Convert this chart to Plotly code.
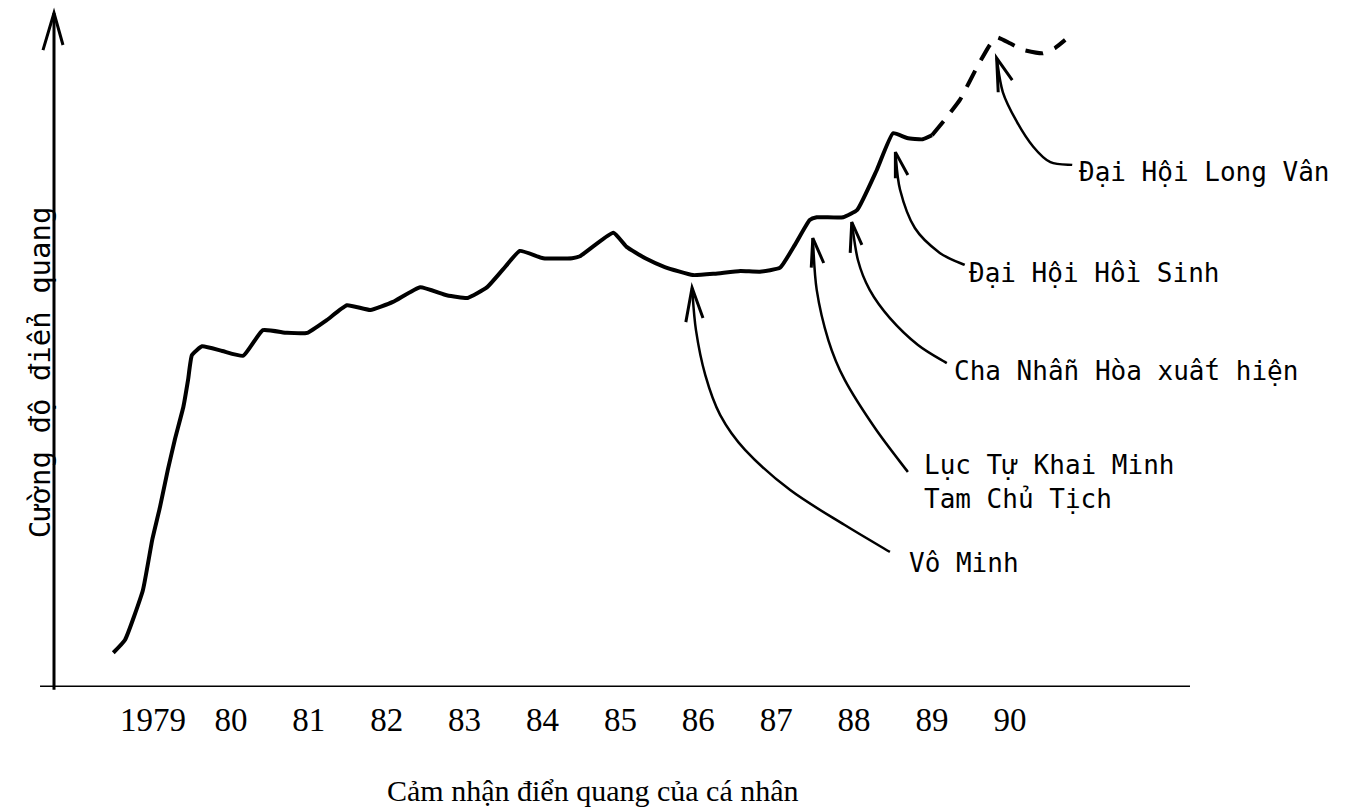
import plotly.graph_objects as go

# ---- data (year, intensity 0-100) ----
solid_years = [1978.49, 1978.64, 1978.87, 1978.99, 1979.09, 1979.19, 1979.28, 1979.39, 1979.45,
               1979.50, 1979.63, 1979.89, 1980.16, 1980.41, 1980.72, 1980.98, 1981.23, 1981.49,
               1981.79, 1982.08, 1982.43, 1982.77, 1983.04, 1983.29, 1983.49, 1983.71, 1984.01,
               1984.38, 1984.48, 1984.91, 1985.08, 1985.32, 1985.57, 1985.93, 1986.21, 1986.54,
               1986.79, 1987.05, 1987.24, 1987.43, 1987.52, 1987.86, 1988.04, 1988.29, 1988.50,
               1988.68, 1988.88, 1989.00]
solid_vals = [5.1, 7.0, 14.4, 21.9, 26.8, 32.3, 36.8, 41.7, 45.7,
              49.4, 50.7, 50.0, 49.3, 53.1, 52.7, 52.7, 54.6, 56.8,
              56.1, 57.3, 59.5, 58.3, 57.9, 59.5, 62.1, 64.9, 63.8,
              63.8, 64.1, 67.6, 65.5, 63.8, 62.5, 61.3, 61.5, 61.9,
              61.8, 62.4, 65.8, 69.5, 69.9, 69.9, 71.0, 76.9, 82.4,
              81.7, 81.5, 82.1]

dashed_years = [1989.00, 1989.19, 1989.36, 1989.58, 1989.74, 1989.83, 1990.00, 1990.17,
                1990.42, 1990.58, 1990.71]
dashed_vals = [82.1, 84.8, 87.4, 92.3, 95.5, 96.7, 95.8, 94.8, 94.3, 95.1, 96.3]

tick_years = [1979, 1980, 1981, 1982, 1983, 1984, 1985, 1986, 1987, 1988, 1989, 1990]
tick_labels = ["1979", "80", "81", "82", "83", "84", "85", "86", "87", "88", "89", "90"]

event_labels = ["Đại Hội Long Vân", "Đại Hội Hồi Sinh", "Cha Nhẫn Hòa xuất hiện",
                "Lục Tự Khai Minh<br>Tam Chủ Tịch", "Vô Minh"]

x_title = "Cảm nhận điển quang của cá nhân"
y_title = "Cường độ điển quang"

# ---- callout geometry (layout decoration, data units) ----
label_pos = [(1990.86, 76.6), (1989.45, 61.6), (1989.26, 47.0), (1988.87, 30.5), (1988.68, 18.5)]
arrow_paths = [
    [(1989.83, 93.6), (1989.91, 88.5), (1990.09, 84.1), (1990.30, 80.4), (1990.52, 78.1), (1990.80, 77.7)],
    [(1988.53, 79.6), (1988.59, 74.0), (1988.78, 68.3), (1989.10, 64.6), (1989.42, 62.8)],
    [(1987.97, 69.2), (1988.05, 63.5), (1988.20, 59.1), (1988.46, 54.9), (1988.82, 50.9), (1989.19, 48.2)],
    [(1987.47, 66.8), (1987.52, 59.1), (1987.67, 51.6), (1987.88, 45.7), (1988.27, 38.5), (1988.69, 32.0)],
    [(1985.92, 59.4), (1985.97, 53.1), (1986.09, 46.4), (1986.28, 40.5), (1986.60, 35.3),
     (1987.18, 29.3), (1987.88, 24.1), (1988.46, 20.1)],
]
arrow_barbs = [
    [(1989.85, 88.5), (1990.03, 90.3)],
    [(1988.53, 75.7), (1988.69, 76.2)],
    [(1987.95, 64.6), (1988.10, 65.8)],
    [(1987.45, 62.4), (1987.61, 63.1)],
    [(1985.84, 54.3), (1986.06, 54.9)],
]

X_RANGE = [1977.729, 1992.312]
Y_RANGE = [0, 100.3]


def smooth_path(pts):
    """Catmull-Rom spline through pts as an SVG path."""
    d = f"M {pts[0][0]},{pts[0][1]}"
    n = len(pts)
    for i in range(n - 1):
        p0 = pts[i - 1] if i > 0 else pts[i]
        p1 = pts[i]
        p2 = pts[i + 1]
        p3 = pts[i + 2] if i + 2 < n else pts[i + 1]
        c1 = (p1[0] + (p2[0] - p0[0]) / 6, p1[1] + (p2[1] - p0[1]) / 6)
        c2 = (p2[0] - (p3[0] - p1[0]) / 6, p2[1] - (p3[1] - p1[1]) / 6)
        d += f" C {c1[0]},{c1[1]} {c2[0]},{c2[1]} {p2[0]},{p2[1]}"
    return d


fig = go.Figure()
fig.add_trace(go.Scatter(x=solid_years, y=solid_vals, mode="lines",
                         line=dict(color="black", width=4, shape="spline", smoothing=0.4),
                         hoverinfo="skip", showlegend=False))
fig.add_trace(go.Scatter(x=dashed_years, y=dashed_vals, mode="lines",
                         line=dict(color="black", width=4, dash="18px,12px",
                                   shape="spline", smoothing=0.4),
                         hoverinfo="skip", showlegend=False))

shapes = []
# x axis line (extends slightly left of y axis)
shapes.append(dict(type="line", xref="paper", yref="y", x0=-0.0123, x1=1.0, y0=0, y1=0,
                   line=dict(color="black", width=3)))
# y axis with open arrow head
shapes.append(dict(type="line", xref="paper", yref="paper", x0=0, x1=0, y0=-0.004, y1=1.0,
                   line=dict(color="black", width=3)))
shapes.append(dict(type="path", xref="paper", yref="paper",
                   path="M -0.0097,0.945 L 0,1 L 0.0079,0.9525",
                   line=dict(color="black", width=3)))

for pts, barbs in zip(arrow_paths, arrow_barbs):
    shapes.append(dict(type="path", xref="x", yref="y", path=smooth_path(pts),
                       line=dict(color="black", width=2.5)))
    tip = pts[0]
    shapes.append(dict(type="path", xref="x", yref="y",
                       path=f"M {barbs[0][0]},{barbs[0][1]} L {tip[0]},{tip[1]} L {barbs[1][0]},{barbs[1][1]}",
                       line=dict(color="black", width=3)))

annotations = []
for text, (lx, ly) in zip(event_labels, label_pos):
    annotations.append(dict(x=lx, y=ly, xref="x", yref="y", text=text, showarrow=False,
                            xanchor="left", yanchor="middle", align="left",
                            font=dict(family="DejaVu Sans Mono", size=26, color="black")))
annotations.append(dict(x=-0.0123, y=0.467, xref="paper", yref="paper", text=y_title,
                        textangle=-90, showarrow=False, xanchor="center", yanchor="middle",
                        font=dict(family="DejaVu Sans Mono", size=29, color="black")))
annotations.append(dict(x=0.4745, y=-0.153, xref="paper", yref="paper", text=x_title,
                        showarrow=False, xanchor="center", yanchor="middle",
                        font=dict(family="Liberation Serif", size=30, color="black")))

fig.update_layout(
    width=1345, height=808,
    margin=dict(l=54, r=155, t=13, b=121),
    paper_bgcolor="white", plot_bgcolor="white",
    shapes=shapes, annotations=annotations,
    xaxis=dict(range=X_RANGE, showgrid=False, zeroline=False, showline=False,
               tickmode="array", tickvals=tick_years, ticktext=tick_labels, ticks="",
               ticklabelstandoff=10,
               tickfont=dict(family="Liberation Serif", size=33, color="black")),
    yaxis=dict(range=Y_RANGE, showgrid=False, zeroline=False, showline=False,
               showticklabels=False, ticks=""),
)

fig.write_html("out.html", config={"displayModeBar": False},
               post_script="document.body.style.margin='0';")
